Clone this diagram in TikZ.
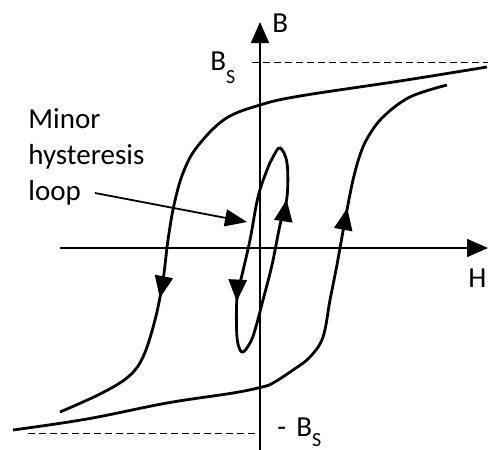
\documentclass[tikz,border=0pt]{standalone}
\usepackage{fontspec}
\setmainfont{Carlito}
\usetikzlibrary{arrows.meta,decorations.markings}

\newcommand{\satsub}[1]{\raisebox{-6.5pt}{\fontsize{10}{10}\selectfont #1}}

\tikzset{
  axisline/.style={line width=0.8pt,-{Triangle[length=10.5pt,width=9pt]}},
  refline/.style={line width=0.5pt,dash pattern=on 3.5pt off 2pt},
  branch/.style={line width=1.4pt},
  lbl/.style={font=\fontsize{14.5}{18}\selectfont,inner sep=0pt},
  curvetip/.tip={Triangle[length=11pt,width=9pt]},
  midarrow/.style={postaction={decorate},
    decoration={markings,mark=at position #1 with {\arrow{curvetip}}}},
}

\begin{document}
\begin{tikzpicture}[x=0.5pt,y=-0.5pt]
  \useasboundingbox (0,0) rectangle (488,450);
  \clip (0,0) rectangle (488,450);
  % axes
  \draw[axisline] (260,450) -- (260,22);
  \draw[axisline] (60,248) -- (488,248);
  \node[lbl,anchor=base west] (bname) at (272,32) {B};
  \node[lbl,anchor=base west] (hname) at (468,287) {H};
  % saturation levels
  \draw[refline] (252,62) -- (488,62);
  \draw[refline] (28,433) -- (260,433);
  \node[lbl,anchor=base west] (bsat) at (210,70) {B\satsub{S}};
  \node[lbl,anchor=base west] (bsatneg) at (277,436) {-\hspace{5pt}B\raisebox{-5pt}{\fontsize{10}{10}\selectfont S}};
  % outer loop, descending branch
  \draw[branch,midarrow=0.74] plot[smooth,tension=0.6] coordinates {
    (487,67) (400,81) (300,96) (260,105) (225,119) (197,147) (183,173)
    (174,205) (168,240) (163,280) (155,320) (143,357) (128,377)
    (100,394) (60,412)};
  % outer loop, ascending branch
  \draw[branch,midarrow=0.73] plot[smooth,tension=0.6] coordinates {
    (13,430) (87,419) (167,403) (233,393) (262,387) (273,383) (293,370)
    (310,357) (323,337) (330,300) (336,270) (340,248) (346,215)
    (353,180) (360,155) (368,137) (383,117) (410,97) (447,85)};
  % minor loop
  \draw[branch,postaction={decorate},decoration={markings,
      mark=at position 0.35 with {\arrow{curvetip}},
      mark=at position 0.847 with {\arrow{curvetip}}}]
    plot[smooth cycle,tension=0.6] coordinates {
    (280,148) (273,157) (267,170) (258,197) (250,240) (242,275)
    (237,297) (237,337) (242,352) (250,343) (255,330) (263,300)
    (272,265) (280,225) (287,197) (287,163)};
  % label
  \node[lbl,align=left,anchor=base west] (minorlbl) at (28,200)
    {Minor\\hysteresis\\loop};
  \coordinate (lbltail) at (95,193);
  \coordinate (lbltip) at (247,222);
  \draw[line width=0.9pt,-{Triangle[length=11pt,width=8.5pt]}] (lbltail) -- (lbltip);
\end{tikzpicture}
\end{document}
